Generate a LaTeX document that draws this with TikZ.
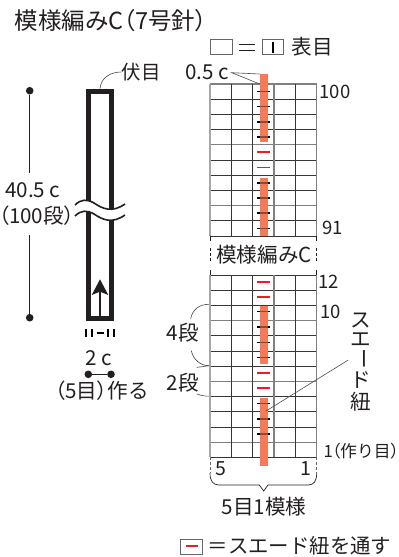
\documentclass[tikz,border=0pt]{standalone}
\usepackage{fontspec}
\setmainfont{Noto Sans CJK JP}
\newfontfamily\pf[RawFeature=+palt]{Noto Sans CJK JP}
\definecolor{ink}{HTML}{231F20}
\definecolor{strip}{HTML}{F47A58}
\definecolor{dashred}{HTML}{ED1C24}
\definecolor{markbrown}{HTML}{8A4A34}
\tikzset{
 x=1pt,y=-1pt,
 lbl/.style={inner sep=0pt,text=ink,font=\fontsize{20.6}{22}\selectfont},
 rownum/.style={inner sep=0pt,text=ink,font=\fontsize{18.5}{20}\selectfont},
 small/.style={inner sep=0pt,text=ink,font=\fontsize{16.8}{19}\selectfont},
 gridthin/.style={draw=ink!90,line width=0.9pt},
 gridbold/.style={draw=black!50,line width=1.3pt},
 leader/.style={draw=black!70,line width=0.6pt},
 swatch/.style={draw=black!60,line width=0.9pt,fill=white},
 knit/.style={draw=ink,line width=5pt,line join=miter},
 dimline/.style={draw=ink,line width=0.9pt},
 enddot/.style={circle,fill=ink,inner sep=0pt,minimum size=7.6pt},
 mark black/.style={draw=black,line width=1.4pt},
 mark red/.style={draw=dashred,line width=1.6pt},
 stripband/.style={fill=strip,draw=none},
 cut/.style={draw=black!60,line width=0.9pt,dash pattern=on 3pt off 2pt},
}
\begin{document}
\begin{tikzpicture}
\useasboundingbox (0,0) rectangle (399,557);
\fill[white] (0,0) rectangle (399,557);
% title
\node[inner sep=0pt,anchor=west,text=ink] (title) at (14.5,20.5) {\fontsize{23.5}{25}\selectfont 模様編みC{\pf（}7号針{\pf）}};
% legend top
\node[swatch,minimum width=21.5pt,minimum height=15pt] (lega) at (221.2,46.8) {};
\draw[ink,line width=1pt] (238.7,44.3) -- (254.7,44.3) (238.7,50.3) -- (254.7,50.3);
\node[swatch,minimum width=21.5pt,minimum height=15pt] (legb) at (273,46.8) {};
\draw[black,line width=1.6pt] (273,41.7) -- (273,52.7);
\node[lbl] (omote) at (312.2,47) {表目};
% grid upper
\foreach \k in {0,...,10} \draw[gridthin] (210,84+15.2*\k) -- (316.7,84+15.2*\k);
\foreach \k in {0,4,8} \draw[gridbold] (210,84+15.2*\k) -- (316.7,84+15.2*\k);
\foreach \X in {231.3,252.7,295.3} \draw[gridthin] (\X,84) -- (\X,236);
\draw[gridbold] (274,84) -- (274,236);
\draw[draw=black!35,line width=1.5pt] (210,84) -- (210,236);
\draw[draw=black!50,line width=1pt] (316.7,84) -- (316.7,236);
% grid lower
\foreach \k in {0,...,12} \draw[gridthin] (210,275+15.2*\k) -- (316.7,275+15.2*\k);
\foreach \k in {3,7,11} \draw[gridbold] (210,275+15.2*\k) -- (316.7,275+15.2*\k);
\foreach \X in {231.3,252.7,295.3} \draw[gridthin] (\X,275) -- (\X,457.4);
\draw[gridbold] (274,275) -- (274,457.4);
\draw[draw=black!35,line width=1.5pt] (210,275) -- (210,457.4);
\draw[draw=black!50,line width=1pt] (316.7,275) -- (316.7,457.4);
% break ticks
\foreach \X in {210,316.7} {
 \draw[ink,line width=0.8pt] (\X,236) -- (\X,241);
 \draw[ink,line width=0.8pt,dash pattern=on 3pt off 2pt] (\X,248) -- (\X,261);
 \draw[ink,line width=0.8pt] (\X,270) -- (\X,275);
 \draw[cut] (\X,457.4) -- (\X,473);
}
% row marks
\foreach \Y in {91.2,106.7,121.8,136.8,182.8,197.8,212.9,228.6,311.7,326.8,342.7,357.7,403.7,418.8,433.8}
 \draw[mark black] (257,\Y) -- (270,\Y);
\foreach \Y in {151.8,167.6,281.8,296.8,372.7,387.8}
 \draw[mark red] (257,\Y) -- (270,\Y);
% strips
\fill[stripband] (259.7,74) rectangle (268,141.7);
\fill[stripband] (259.7,178) rectangle (268,235.7);
\fill[stripband] (259.7,306) rectangle (268,363.7);
\fill[stripband] (259.7,397.7) rectangle (268,466);
\foreach \Y in {91.2,106.7,121.8,136.8,182.8,197.8,212.9,228.6,311.7,326.8,342.7,357.7,403.7,418.8,433.8}
 \draw[draw=markbrown,line width=1.4pt] (259.7,\Y) -- (268,\Y);
% strip anchors for leaders
\coordinate (striptop) at (259.7,74);
\coordinate (stripgrid) at (259.7,84);
\coordinate (stripmid) at (266,411);
% row labels
\node[lbl] (halfc) at (207,71.7) {0.5\kern4pt c};
\coordinate (halfend) at (231.7,72.7);
\draw[leader] (striptop) -- (halfend) -- (stripgrid);
\node[rownum] (r100) at (335,91.7) {100};
\node[rownum] (r91) at (332.5,227.7) {91};
\node[rownum] (r12) at (328.5,281.7) {12};
\node[rownum] (r10) at (330.3,312) {10};
\node[lbl] (mid) at (264,255) {模様編みC};
% side labels
\node[lbl] (four) at (183,333) {4段};
\node[lbl] (two) at (183,382.7) {2段};
\draw[leader] (209,304.3) .. controls (199,304.3) and (192,310) .. (190.7,319);
\draw[leader] (191.3,350.7) .. controls (193,359) and (200,365.7) .. (209,365.7);
\draw[leader] (196.7,367.3) .. controls (201,367) and (205,366.2) .. (209,365.7);
\draw[leader] (197,394) .. controls (201,395.6) and (205,396.2) .. (209,396.2);
% vertical label
\node[lbl] (su) at (361,320) {ス};
\node[lbl] (e) at (361,340) {エ};
\node[lbl,rotate=-90] (bar) at (361,358.5) {ー};
\node[lbl] (do) at (361,380) {ド};
\node[lbl] (himo) at (361,402) {紐};
\draw[leader] (348.3,360) -- (stripmid);
% bottom
\node[small,anchor=west] (one) at (323.3,450.7) {1\kern-1pt{\pf（}作り目{\pf）}};
\node[lbl,font=\fontsize{19.5}{21}\selectfont] (five) at (220.7,469) {5};
\node[lbl,font=\fontsize{19.5}{21}\selectfont] (onea) at (306,469) {1};
\draw[leader,draw=ink,line width=0.7pt] (210,473) .. controls (210,481) and (213,485) .. (219,485) -- (259.3,485) -- (263.7,491) -- (268,485) -- (308,485) .. controls (314,485) and (316.7,481) .. (316.7,473);
\node[lbl] (repeat) at (264,506.7) {5目1模様};
\node[swatch,minimum width=22pt,minimum height=15pt] (legc) at (191.7,546.5) {};
\draw[mark red] (186,546) -- (198.3,546);
\node[lbl,anchor=west,font=\fontsize{20.4}{23}\selectfont] (legt) at (207.5,546) {＝スエード紐を通す};
% left knit piece
\draw[knit] (88.5,318) -- (88.5,91) -- (111.3,91) -- (111.3,318) -- cycle;
\fill[white] (75,205) .. controls (81,199) and (87,199) .. (94,203) .. controls (103,209) and (112,213) .. (125,204) -- (125,215) .. controls (112,224) and (103,220) .. (94,214) .. controls (87,210) and (81,210) .. (75,216) -- cycle;
\draw[ink,line width=1.6pt] (75,205) .. controls (81,199) and (87,199) .. (94,203) .. controls (103,209) and (112,213) .. (125,204);
\draw[ink,line width=1.6pt] (75,216) .. controls (81,210) and (87,210) .. (94,214) .. controls (103,220) and (112,224) .. (125,215);
\coordinate (topedge) at (100,88.5);
\node[lbl,font=\fontsize{19.5}{21}\selectfont] (fuse) at (141,72) {伏目};
\draw[leader] (topedge) .. controls (101,78) and (110,72) .. (fuse.west);
% arrow
\coordinate (arrfoot) at (100,315.5);
\coordinate (arrtip) at (100,279.3);
\draw[ink,line width=2pt] (arrfoot) -- (100,290);
\fill[ink] (arrtip) -- (108.3,295) -- (100,291.7) -- (91.7,295) -- cycle;
% ticks
\draw[black,line width=1.9pt] (85.7,329) -- (85.7,336.7) (92,329) -- (92,336.7) (107.7,329) -- (107.7,336.7) (114.3,329) -- (114.3,336.7) (96.7,332.6) -- (104,332.6);
% height dim
\node[enddot] (dtop) at (29.7,90.7) {};
\node[enddot] (dbot) at (29.7,317.7) {};
\node[lbl] (h1) at (32.5,190.5) {40.5\kern4pt c};
\node[lbl] (h2) at (36.5,216) {{\pf（}100段{\pf）}};
\draw[dimline] (dtop) -- (29.7,173);
\draw[dimline] (29.7,235) -- (dbot);
% width dim
\node[enddot] (wl) at (88.3,374.3) {};
\node[enddot] (wr) at (111,374.3) {};
\draw[dimline] (wl) -- (wr);
\node[lbl] (wt) at (98.5,358.5) {2\kern5pt c};
\node[lbl] (cast) at (102,391) {{\pf（}5目{\pf）}作る};
\end{tikzpicture}
\end{document}
